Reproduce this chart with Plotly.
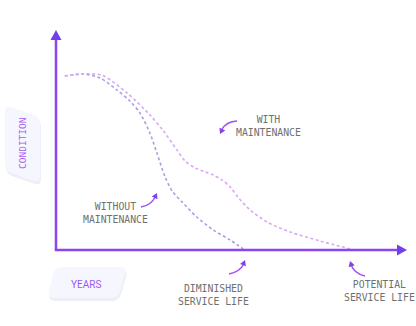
import plotly.graph_objects as go
import math

# ---- data (years, condition %) ----
years_without = [1.5, 4.6, 7.5, 10.4, 12.6, 14.3, 16.0, 17.2, 18.6, 19.9, 21.5, 24.0, 26.8, 29.7, 31.9]
cond_without = [79.1, 80.0, 78.2, 72.7, 67.7, 62.3, 53.2, 44.1, 33.2, 26.4, 21.8, 15.0, 9.1, 4.5, 0.5]

years_with = [1.5, 4.6, 7.8, 12.1, 16.0, 18.2, 20.6, 22.0, 23.7, 25.4, 26.8, 28.3, 29.7, 31.0, 33.1, 36.0, 39.9, 45.0, 50.1]
cond_with = [79.1, 80.0, 79.5, 71.4, 61.4, 54.5, 45.5, 40.5, 37.3, 35.5, 34.1, 31.8, 28.6, 24.1, 18.2, 12.7, 8.2, 4.1, 0.5]

label_with = "WITH<br>MAINTENANCE"
label_without = "WITHOUT<br>MAINTENANCE"
label_dim = "DIMINISHED<br>SERVICE LIFE"
label_pot = "POTENTIAL<br>SERVICE LIFE"
axis_y_title = "CONDITION"
axis_x_title = "YEARS"

W, H = 416, 326
X0, Y0 = 56, 250          # pixel position of origin
SX, SY = 5.867, 2.2       # pixels per unit


def P(x, y):
    return x / W, 1 - y / H


def path(points, close=True):
    s = ""
    for i, (x, y) in enumerate(points):
        px, py = P(x, y)
        s += ("M" if i == 0 else "L") + f"{px:.5f},{py:.5f} "
    return s + ("Z" if close else "")


def qcurve(a, c, b):
    ax, ay = P(*a); cx, cy = P(*c); bx, by = P(*b)
    return f"M{ax:.5f},{ay:.5f} Q{cx:.5f},{cy:.5f} {bx:.5f},{by:.5f}"


def head(tip, frm, L=5.5, w=3.2):
    dx, dy = tip[0] - frm[0], tip[1] - frm[1]
    d = math.hypot(dx, dy); ux, uy = dx / d, dy / d
    bx, by = tip[0] - ux * L, tip[1] - uy * L
    return path([tip, (bx - uy * w, by + ux * w), (bx + uy * w, by - ux * w)])


def rounded_poly(pts, r=6):
    n = len(pts); s = ""
    for i in range(n):
        p0 = pts[i - 1]; p1 = pts[i]; p2 = pts[(i + 1) % n]
        d1 = math.hypot(p1[0]-p0[0], p1[1]-p0[1]); d2 = math.hypot(p2[0]-p1[0], p2[1]-p1[1])
        a = (p1[0] + (p0[0]-p1[0]) * r / d1, p1[1] + (p0[1]-p1[1]) * r / d1)
        b = (p1[0] + (p2[0]-p1[0]) * r / d2, p1[1] + (p2[1]-p1[1]) * r / d2)
        ax, ay = P(*a); cx, cy = P(*p1); bx, by = P(*b)
        s += ("M" if i == 0 else "L") + f"{ax:.5f},{ay:.5f} Q{cx:.5f},{cy:.5f} {bx:.5f},{by:.5f} "
    return s + "Z"


fig = go.Figure()
fig.add_trace(go.Scatter(x=years_without, y=cond_without, mode="lines",
                         line=dict(color="#aaa0de", width=1.6, dash="3px,2.5px", shape="spline", smoothing=0.8),
                         hoverinfo="skip", showlegend=False))
fig.add_trace(go.Scatter(x=years_with, y=cond_with, mode="lines",
                         line=dict(color="#d8a8f7", width=1.6, dash="3px,2.5px", shape="spline", smoothing=0.8),
                         hoverinfo="skip", showlegend=False))

shapes = []
# label boxes with shadows
ybox = [(5, 105), (40, 117), (40, 183), (5, 171)]
xbox = [(55, 267), (127, 267), (118, 298), (47, 298)]
for box in (ybox, xbox):
    sh = [(x + 1, y + 3) for x, y in box]
    shapes.append(dict(type="path", xref="paper", yref="paper", path=rounded_poly(sh, 7),
                       fillcolor="rgba(200,205,235,0.35)", line=dict(width=0), layer="below"))
    shapes.append(dict(type="path", xref="paper", yref="paper", path=rounded_poly(box, 7),
                       fillcolor="#f6f7fe", line=dict(width=0), layer="below"))

# axes
axc = "#8a45ef"
x0p, y0p = P(X0, Y0)
shapes.append(dict(type="line", xref="paper", yref="paper", x0=x0p, y0=y0p, x1=P(X0, 38)[0], y1=P(X0, 38)[1],
                   line=dict(color=axc, width=2.5)))
shapes.append(dict(type="line", xref="paper", yref="paper", x0=x0p - 1.2 / W, y0=y0p, x1=P(399, Y0)[0], y1=y0p,
                   line=dict(color=axc, width=2.5)))
shapes.append(dict(type="path", xref="paper", yref="paper", path=path([(X0, 30), (61.5, 40), (50.5, 40)]),
                   fillcolor="#7040e8", line=dict(width=0)))
shapes.append(dict(type="path", xref="paper", yref="paper", path=path([(407, Y0), (397, 244.5), (397, 255.5)]),
                   fillcolor="#7040e8", line=dict(width=0)))

# small curved pointer arrows
arrc = "#a052f5"
for a, c, b, tip in [
    ((237, 121), (226, 121.5), (221.5, 130), (220, 134)),
    ((141, 207), (151, 205.5), (155.5, 196.5), (157, 193)),
    ((229, 274), (240.5, 271.5), (244, 263.5), (245, 260)),
    ((365, 276), (354, 273.5), (351, 264.5), (350, 261)),
]:
    shapes.append(dict(type="path", xref="paper", yref="paper", path=qcurve(a, c, b),
                       line=dict(color=arrc, width=1.5)))
    shapes.append(dict(type="path", xref="paper", yref="paper", path=head(tip, c),
                       fillcolor="#8240ee", line=dict(width=0)))

font_lab = dict(family="DejaVu Sans Mono", size=9.8, color="#707070")
ann = []
for txt, x, y in [(label_with, 268, 125.5), (label_without, 115, 212.5),
                  (label_dim, 214, 294.5), (label_pot, 379, 290.5)]:
    px, py = P(x, y)
    ann.append(dict(text=txt, x=px, y=py, xref="paper", yref="paper", showarrow=False,
                    font=font_lab, align="center", xanchor="center", yanchor="middle"))
px, py = P(22, 143)
ann.append(dict(text=axis_y_title, x=px, y=py, xref="paper", yref="paper", showarrow=False, textangle=-90,
                font=dict(family="DejaVu Sans Mono", size=9.5, color="#a957f3"), xanchor="center", yanchor="middle"))
px, py = P(86, 284)
ann.append(dict(text=axis_x_title, x=px, y=py, xref="paper", yref="paper", showarrow=False,
                font=dict(family="Roboto", size=10, color="#9a58f2"), xanchor="center", yanchor="middle"))

fig.update_layout(
    width=W, height=H, margin=dict(l=0, r=0, t=0, b=0),
    paper_bgcolor="white", plot_bgcolor="white",
    xaxis=dict(range=[-X0 / SX, (W - X0) / SX], visible=False, fixedrange=True),
    yaxis=dict(range=[(Y0 - H) / SY, Y0 / SY], visible=False, fixedrange=True),
    shapes=shapes, annotations=ann, showlegend=False,
)
fig.write_html("out.html")
